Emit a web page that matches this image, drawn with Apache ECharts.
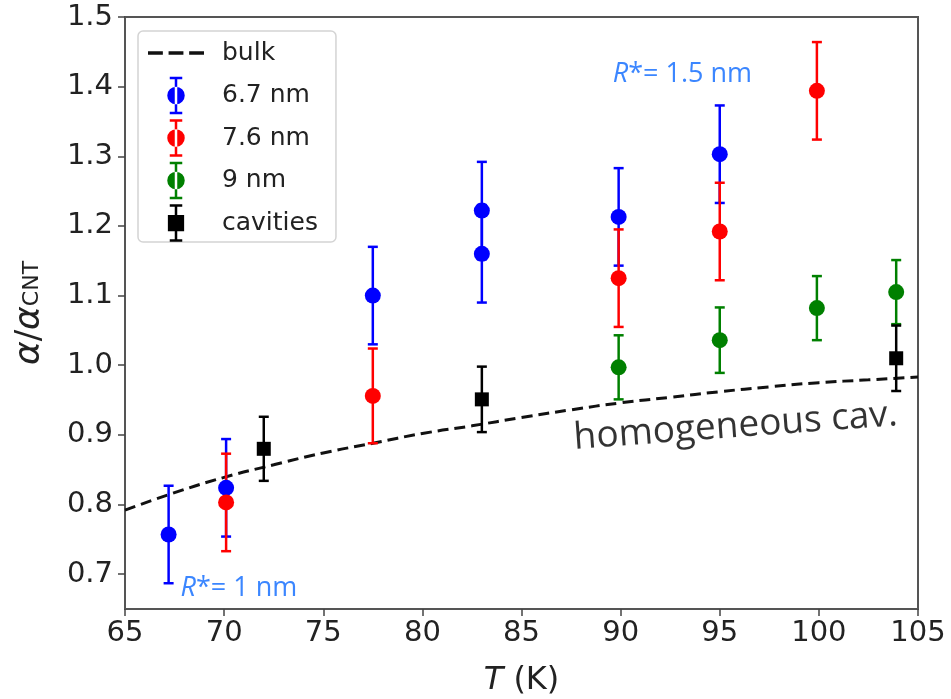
<!DOCTYPE html>
<html>
<head>
<meta charset="utf-8">
<script src="https://cdn.jsdelivr.net/npm/echarts@6.0.0/dist/echarts.min.js"></script>
<style>
  html, body { margin: 0; padding: 0; background: #fff; }
  #chart { width: 951px; height: 699px; }
</style>
</head>
<body>
<div id="chart"></div>
<script>
const myChart = echarts.init(document.querySelector('#chart'));

// bulk curve (dashed)
const bulkT = [65, 67.5, 70, 72.5, 75, 77.5, 80, 82.5, 85, 87.5, 90, 92.5, 95, 97.5, 100, 102.5, 105];
const bulkA = [0.792, 0.817, 0.839, 0.857, 0.874, 0.888, 0.902, 0.913, 0.925, 0.936, 0.946, 0.954, 0.962, 0.969, 0.975, 0.979, 0.983];

// 6.7 nm
const blueT = [67.2, 70.1, 77.5, 83.0, 83.0, 89.9, 95.0];
const blueA = [0.757, 0.824, 1.100, 1.222, 1.160, 1.213, 1.303];
const blueErr = [0.07, 0.07, 0.07, 0.07, 0.07, 0.07, 0.07];

// 7.6 nm
const redT = [70.1, 77.5, 89.9, 95.0, 99.9];
const redA = [0.803, 0.956, 1.125, 1.192, 1.394];
const redErr = [0.07, 0.068, 0.07, 0.07, 0.07];

// 9 nm
const greenT = [89.9, 95.0, 99.9, 103.9];
const greenA = [0.997, 1.036, 1.082, 1.105];
const greenErr = [0.046, 0.047, 0.046, 0.046];

// cavities
const cavT = [72.0, 83.0, 103.9];
const cavA = [0.880, 0.951, 1.010];
const cavErr = [0.046, 0.047, 0.047];

const yTicks = [0.7, 0.8, 0.9, 1.0, 1.1, 1.2, 1.3, 1.4, 1.5];

const font = 'DejaVu Sans';
const dotIcon = 'path://M6,0h2v30h-2z M2,0h10v2h-10z M2,28h10v2h-10z M0,15a7,7 0 1,0 14,0a7,7 0 1,0 -14,0z';
const sqIcon = 'path://M6,0h2v30h-2z M2,0h10v2h-10z M2,28h10v2h-10z M0.5,8.5h13v13h-13z';
const dashIcon = 'path://M0,0h13v3h-13z M18,0h13v3h-13z M36,0h13v3h-13z';

const zip = (t, a, e) => t.map((x, i) => e ? [x, a[i], e[i]] : [x, a[i]]);

function errorBars(name, color, t, a, e) {
  return {
    name,
    type: 'custom',
    z: 2,
    silent: true,
    itemStyle: { color },
    encode: { x: 0, y: 1 },
    data: zip(t, a, e),
    renderItem(params, api) {
      const x = api.value(0), y = api.value(1), d = api.value(2);
      const top = api.coord([x, y + d]);
      const bot = api.coord([x, y - d]);
      const hw = 5;
      const st = { stroke: color, lineWidth: 2.5 };
      return {
        type: 'group',
        children: [
          { type: 'line', shape: { x1: top[0], y1: top[1], x2: bot[0], y2: bot[1] }, style: st },
          { type: 'line', shape: { x1: top[0] - hw, y1: top[1], x2: top[0] + hw, y2: top[1] }, style: st },
          { type: 'line', shape: { x1: bot[0] - hw, y1: bot[1], x2: bot[0] + hw, y2: bot[1] }, style: st }
        ]
      };
    }
  };
}

function points(name, color, t, a, symbol, size) {
  return {
    name,
    type: 'scatter',
    z: 3,
    symbol,
    symbolSize: size,
    itemStyle: { color, opacity: 1 },
    data: zip(t, a)
  };
}

const noteBlue = '#0a68ff';

myChart.setOption({
  animation: false,
  grid: {
    left: 125, right: 33, top: 17, bottom: 90,
    outerBoundsMode: 'none',
    containLabel: false,
    show: true, borderColor: '#555', borderWidth: 2
  },
  legend: {
    orient: 'vertical',
    left: 138, top: 31,
    padding: [3, 18, 0, 10],
    itemGap: 4.5,
    itemWidth: 56,
    itemHeight: 37.5,
    borderColor: '#d4d4d4',
    borderWidth: 1.5,
    borderRadius: 5,
    backgroundColor: 'rgba(255,255,255,0.85)',
    textStyle: { fontFamily: font, fontSize: 25, lineHeight: 38, color: '#222', padding: [0, 0, 0, 13] },
    data: [
      { name: 'bulk', icon: dashIcon },
      { name: '6.7 nm', icon: dotIcon },
      { name: '7.6 nm', icon: dotIcon },
      { name: '9 nm', icon: dotIcon },
      { name: 'cavities', icon: sqIcon }
    ]
  },
  xAxis: {
    type: 'value',
    min: 65, max: 105, interval: 5,
    name: '{i|T} (K)',
    nameLocation: 'middle',
    nameGap: 56,
    nameTextStyle: {
      fontFamily: font, fontSize: 32, color: '#222',
      rich: { i: { fontFamily: font, fontSize: 32, fontStyle: 'italic', color: '#222' } }
    },
    splitLine: { show: false },
    axisLine: { show: true, lineStyle: { color: '#555', width: 2 } },
    axisTick: { show: true, inside: false, length: 7, lineStyle: { color: '#444', width: 1.5 } },
    axisLabel: { fontFamily: font, fontSize: 29, color: '#222', margin: 10 }
  },
  yAxis: {
    type: 'value',
    min: 0.65, max: 1.5,
    name: '{a|α}{b|/}{a|α}{s|CNT}',
    nameLocation: 'middle',
    nameRotate: 90,
    nameGap: 72,
    nameTextStyle: {
      rich: {
        a: { fontFamily: font, fontSize: 36, fontStyle: 'italic', color: '#222', padding: [0, 0, 5, 0] },
        b: { fontFamily: font, fontSize: 34, color: '#222', padding: [0, 0, 5, 0] },
        s: { fontFamily: font, fontSize: 22, color: '#222' }
      }
    },
    splitLine: { show: false },
    axisLine: { show: true, lineStyle: { color: '#555', width: 2 } },
    axisTick: { show: true, inside: false, length: 7, customValues: yTicks, lineStyle: { color: '#444', width: 1.5 } },
    axisLabel: {
      fontFamily: font, fontSize: 29, color: '#222', margin: 12,
      customValues: yTicks,
      formatter: v => v.toFixed(1)
    }
  },
  series: [
    {
      name: 'bulk',
      type: 'line',
      z: 1,
      smooth: true,
      symbol: 'none',
      silent: true,
      lineStyle: { color: '#111', width: 3, type: [11, 6] },
      itemStyle: { color: '#111' },
      data: zip(bulkT, bulkA)
    },
    errorBars('6.7 nm', '#0000ff', blueT, blueA, blueErr),
    points('6.7 nm', '#0000ff', blueT, blueA, 'circle', 16),
    errorBars('7.6 nm', '#ff0000', redT, redA, redErr),
    points('7.6 nm', '#ff0000', redT, redA, 'circle', 16),
    errorBars('9 nm', '#008000', greenT, greenA, greenErr),
    points('9 nm', '#008000', greenT, greenA, 'circle', 16),
    errorBars('cavities', '#000000', cavT, cavA, cavErr),
    points('cavities', '#000000', cavT, cavA, 'rect', 14),
    {
      name: 'notes',
      type: 'scatter',
      symbolSize: 0,
      silent: true,
      z: 4,
      label: {
        show: true,
        position: 'inside',
        fontFamily: 'Open Sans',
        fontSize: 27
      },
      data: [
        {
          value: [89.6, 1.417],
          label: {
            align: 'left',
            formatter: '{r|R}*= 1.5 nm',
            color: noteBlue,
            rich: { r: { fontFamily: 'Open Sans', fontSize: 27, fontStyle: 'italic', color: noteBlue } }
          }
        },
        {
          value: [67.8, 0.68],
          label: {
            align: 'left',
            formatter: '{r|R}*= 1 nm',
            color: noteBlue,
            rich: { r: { fontFamily: 'Open Sans', fontSize: 27, fontStyle: 'italic', color: noteBlue } }
          }
        },
        {
          value: [95.8, 0.912],
          label: {
            align: 'center',
            rotate: 4.2,
            formatter: 'homogeneous cav.',
            color: '#000',
            fontSize: 37
          }
        }
      ]
    }
  ]
});
</script>
</body>
</html>
